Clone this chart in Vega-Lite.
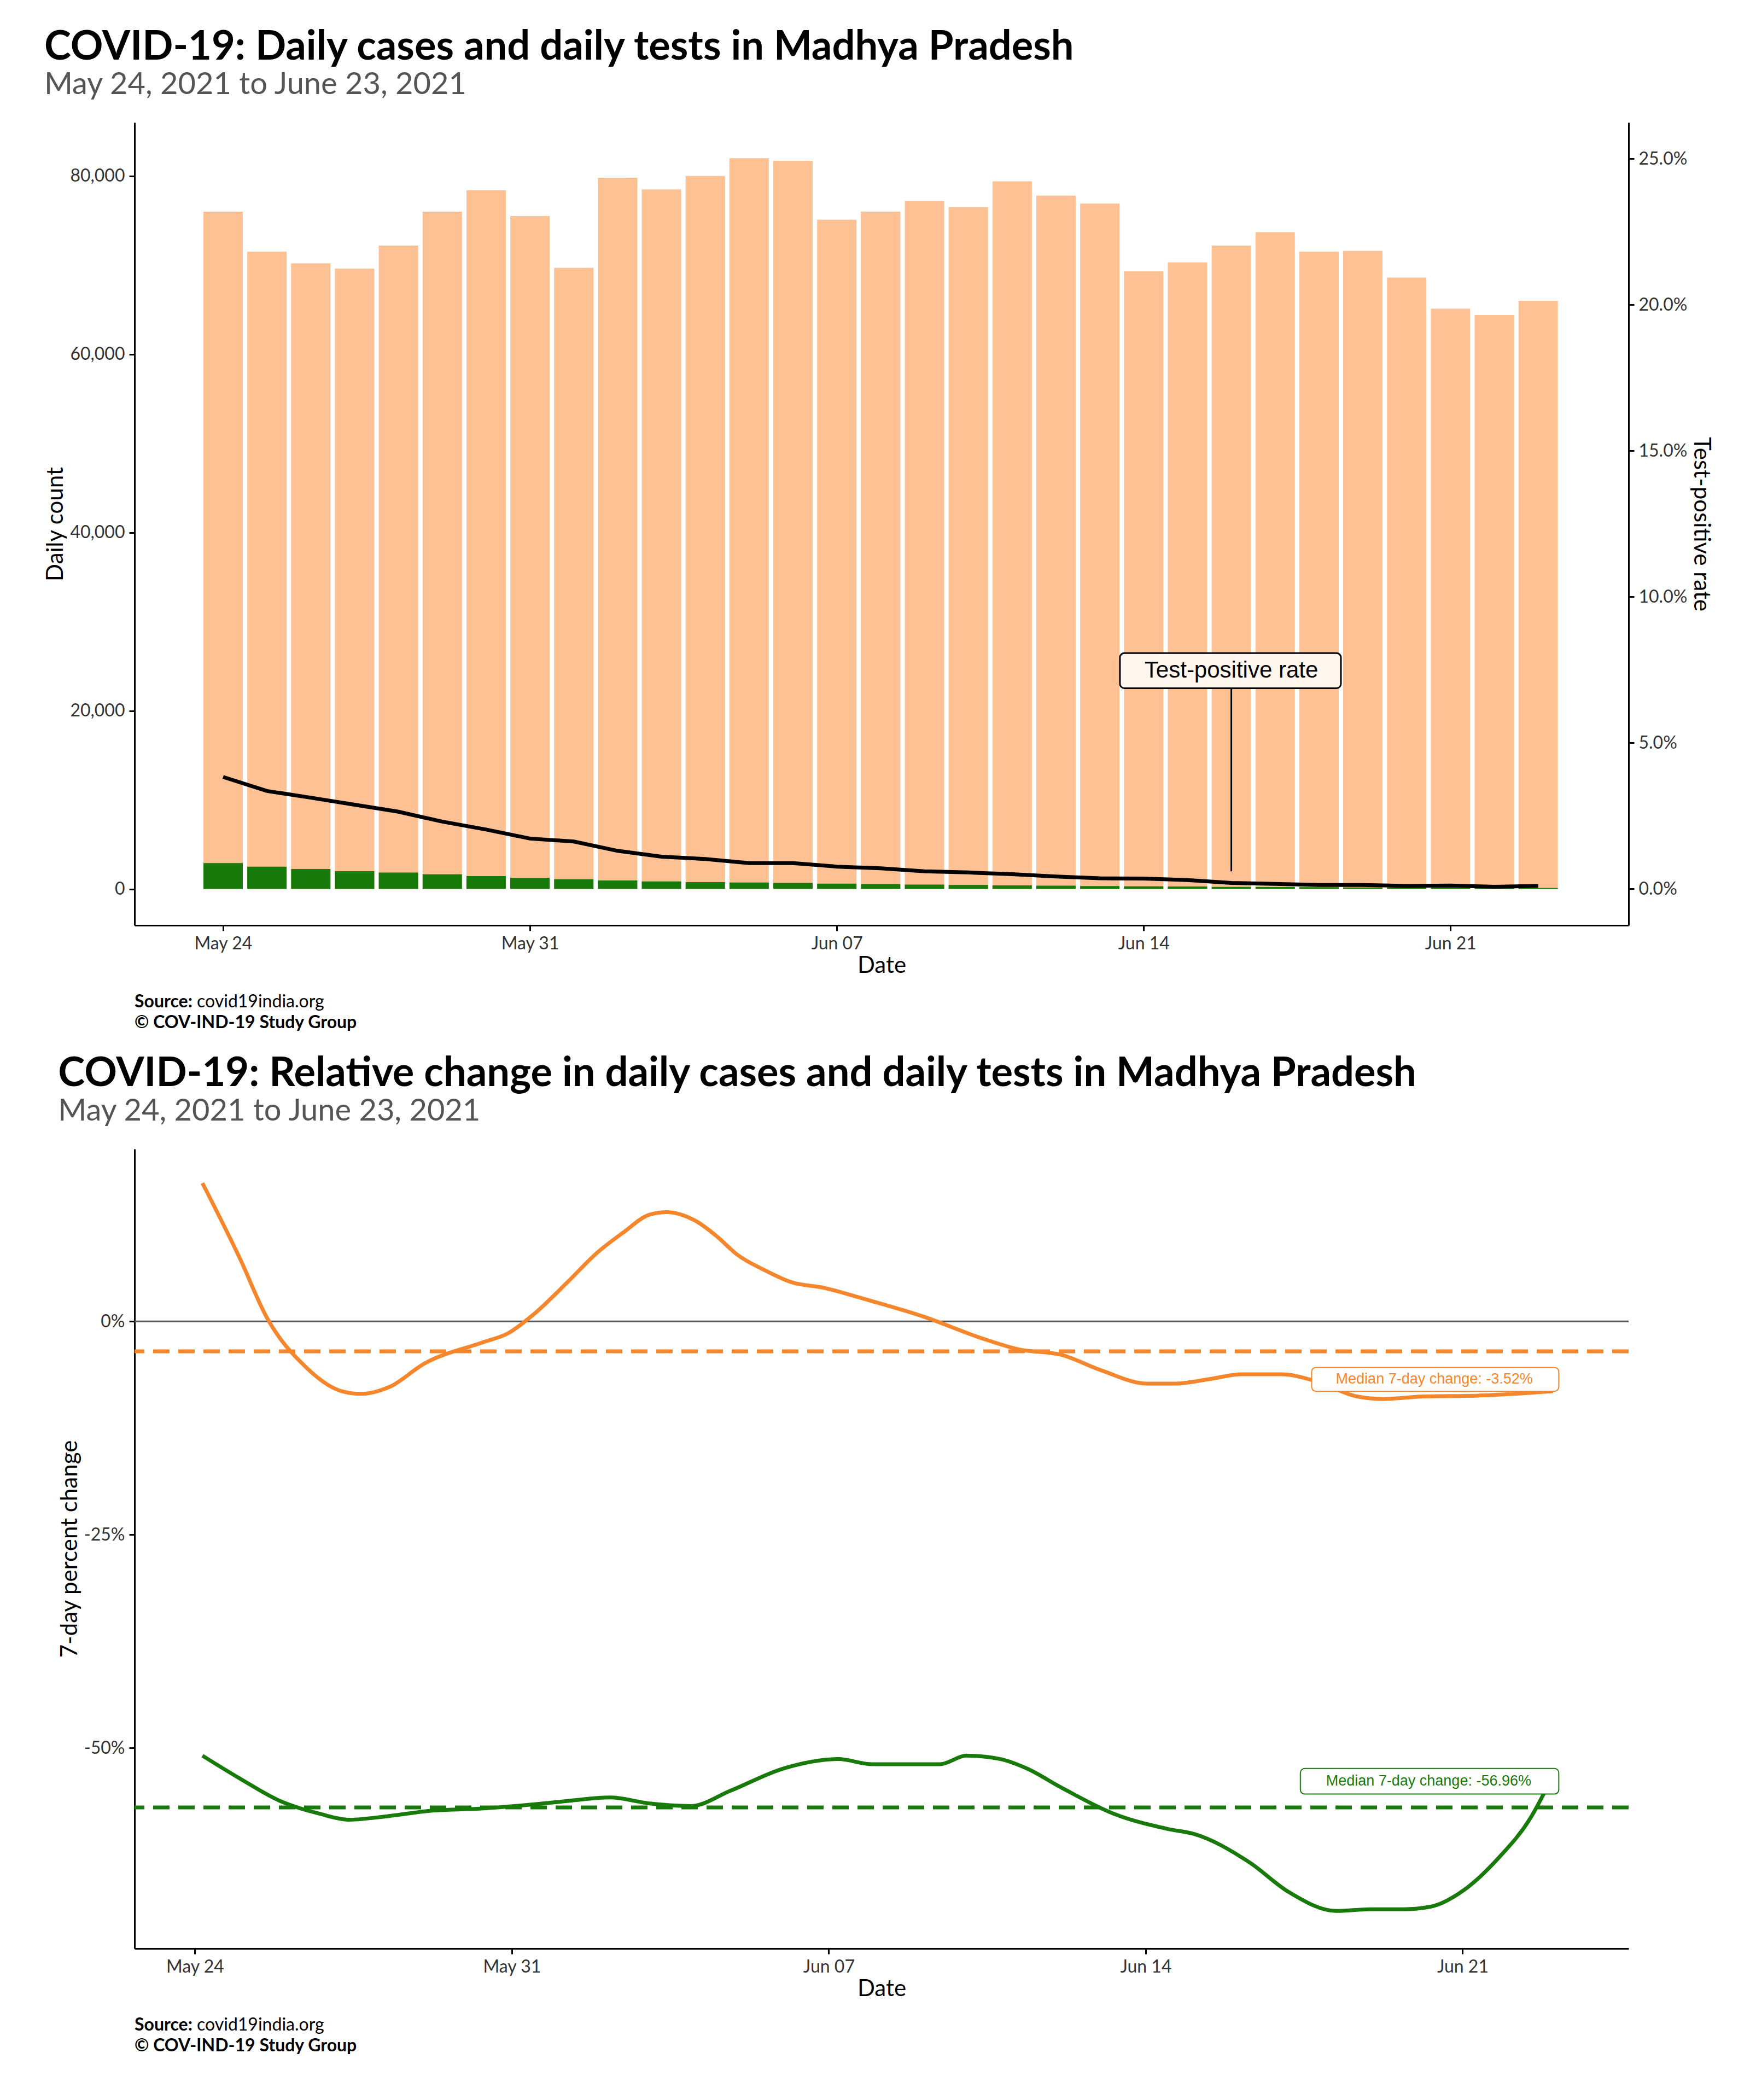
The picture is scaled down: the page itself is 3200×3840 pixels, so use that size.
{
  "$schema": "https://vega.github.io/schema/vega-lite/v6.json",
  "background": "white",
  "padding": {"left": 80, "top": 50, "right": 60, "bottom": 20},
  "config": {
    "font": "Lato",
    "view": {"stroke": null},
    "axis": {"grid": false, "domainColor": "black", "domainWidth": 3, "tickColor": "black", "tickWidth": 3, "tickSize": 10, "labelFont": "Lato", "labelFontSize": 32, "labelColor": "#333333", "titleFont": "Lato", "titleFontSize": 42, "titleFontWeight": "normal", "titleColor": "black", "labelPadding": 8},
    "title": {"font": "Lato", "fontSize": 74, "fontWeight": "bold", "color": "black", "anchor": "start", "subtitleFont": "Lato", "subtitleFontSize": 56, "subtitleColor": "#555555", "offset": 40}
  },
  "spacing": 30,
  "datasets": {
    "daily": [
      {"date": "2021-05-24T00:00:00", "tests": 76000, "cases": 2900, "tpr": 3.83},
      {"date": "2021-05-25T00:00:00", "tests": 71500, "cases": 2500, "tpr": 3.35},
      {"date": "2021-05-26T00:00:00", "tests": 70200, "cases": 2250, "tpr": 3.12},
      {"date": "2021-05-27T00:00:00", "tests": 69600, "cases": 2000, "tpr": 2.88},
      {"date": "2021-05-28T00:00:00", "tests": 72200, "cases": 1850, "tpr": 2.64},
      {"date": "2021-05-29T00:00:00", "tests": 76000, "cases": 1650, "tpr": 2.30},
      {"date": "2021-05-30T00:00:00", "tests": 78400, "cases": 1450, "tpr": 2.03},
      {"date": "2021-05-31T00:00:00", "tests": 75500, "cases": 1250, "tpr": 1.72},
      {"date": "2021-06-01T00:00:00", "tests": 69700, "cases": 1100, "tpr": 1.62},
      {"date": "2021-06-02T00:00:00", "tests": 79800, "cases": 950, "tpr": 1.30},
      {"date": "2021-06-03T00:00:00", "tests": 78500, "cases": 850, "tpr": 1.10},
      {"date": "2021-06-04T00:00:00", "tests": 80000, "cases": 780, "tpr": 1.02},
      {"date": "2021-06-05T00:00:00", "tests": 82000, "cases": 720, "tpr": 0.88},
      {"date": "2021-06-06T00:00:00", "tests": 81700, "cases": 680, "tpr": 0.88},
      {"date": "2021-06-07T00:00:00", "tests": 75100, "cases": 600, "tpr": 0.76},
      {"date": "2021-06-08T00:00:00", "tests": 76000, "cases": 550, "tpr": 0.70},
      {"date": "2021-06-09T00:00:00", "tests": 77200, "cases": 500, "tpr": 0.60},
      {"date": "2021-06-10T00:00:00", "tests": 76500, "cases": 450, "tpr": 0.56},
      {"date": "2021-06-11T00:00:00", "tests": 79400, "cases": 400, "tpr": 0.50},
      {"date": "2021-06-12T00:00:00", "tests": 77800, "cases": 370, "tpr": 0.42},
      {"date": "2021-06-13T00:00:00", "tests": 76900, "cases": 330, "tpr": 0.36},
      {"date": "2021-06-14T00:00:00", "tests": 69300, "cases": 300, "tpr": 0.35},
      {"date": "2021-06-15T00:00:00", "tests": 70300, "cases": 280, "tpr": 0.30},
      {"date": "2021-06-16T00:00:00", "tests": 72200, "cases": 240, "tpr": 0.20},
      {"date": "2021-06-17T00:00:00", "tests": 73700, "cases": 220, "tpr": 0.17},
      {"date": "2021-06-18T00:00:00", "tests": 71500, "cases": 200, "tpr": 0.13},
      {"date": "2021-06-19T00:00:00", "tests": 71600, "cases": 180, "tpr": 0.13},
      {"date": "2021-06-20T00:00:00", "tests": 68600, "cases": 160, "tpr": 0.10},
      {"date": "2021-06-21T00:00:00", "tests": 65100, "cases": 150, "tpr": 0.11},
      {"date": "2021-06-22T00:00:00", "tests": 64400, "cases": 130, "tpr": 0.07},
      {"date": "2021-06-23T00:00:00", "tests": 66000, "cases": 110, "tpr": 0.10}
    ],
    "tests_change": [
      {"date": "2021-05-24T04:00:00", "pct": 16.2},
      {"date": "2021-05-25T00:00:00", "pct": 7.3},
      {"date": "2021-05-25T14:00:00", "pct": 0.5},
      {"date": "2021-05-26T11:00:00", "pct": -5.4},
      {"date": "2021-05-27T06:00:00", "pct": -8.2},
      {"date": "2021-05-27T16:00:00", "pct": -8.5},
      {"date": "2021-05-28T07:00:00", "pct": -7.7},
      {"date": "2021-05-29T02:00:00", "pct": -4.9},
      {"date": "2021-05-30T08:00:00", "pct": -2.5},
      {"date": "2021-05-30T22:00:00", "pct": -1.4},
      {"date": "2021-05-31T12:00:00", "pct": 0.9},
      {"date": "2021-06-01T06:00:00", "pct": 4.7},
      {"date": "2021-06-01T21:00:00", "pct": 8.0},
      {"date": "2021-06-02T11:00:00", "pct": 10.4},
      {"date": "2021-06-03T01:00:00", "pct": 12.5},
      {"date": "2021-06-03T10:00:00", "pct": 12.8},
      {"date": "2021-06-04T02:00:00", "pct": 11.7},
      {"date": "2021-06-04T13:00:00", "pct": 9.9},
      {"date": "2021-06-04T23:00:00", "pct": 7.9},
      {"date": "2021-06-05T14:00:00", "pct": 6.0},
      {"date": "2021-06-06T04:00:00", "pct": 4.6},
      {"date": "2021-06-06T22:00:00", "pct": 3.9},
      {"date": "2021-06-07T16:00:00", "pct": 2.8},
      {"date": "2021-06-09T03:00:00", "pct": 0.5},
      {"date": "2021-06-10T08:00:00", "pct": -1.9},
      {"date": "2021-06-11T05:00:00", "pct": -3.3},
      {"date": "2021-06-12T03:00:00", "pct": -3.9},
      {"date": "2021-06-13T00:00:00", "pct": -5.7},
      {"date": "2021-06-14T01:00:00", "pct": -7.3},
      {"date": "2021-06-14T15:00:00", "pct": -7.3},
      {"date": "2021-06-15T09:00:00", "pct": -6.8},
      {"date": "2021-06-16T03:00:00", "pct": -6.2},
      {"date": "2021-06-17T00:00:00", "pct": -6.2},
      {"date": "2021-06-17T18:00:00", "pct": -7.0},
      {"date": "2021-06-18T16:00:00", "pct": -8.8},
      {"date": "2021-06-19T06:00:00", "pct": -9.1},
      {"date": "2021-06-20T03:00:00", "pct": -8.8},
      {"date": "2021-06-21T08:00:00", "pct": -8.7},
      {"date": "2021-06-23T00:00:00", "pct": -8.2}
    ],
    "cases_change": [
      {"date": "2021-05-24T04:00:00", "pct": -50.9},
      {"date": "2021-05-25T00:00:00", "pct": -53.6},
      {"date": "2021-05-25T21:00:00", "pct": -56.2},
      {"date": "2021-05-26T18:00:00", "pct": -57.7},
      {"date": "2021-05-27T10:00:00", "pct": -58.4},
      {"date": "2021-05-28T06:00:00", "pct": -58.0},
      {"date": "2021-05-29T03:00:00", "pct": -57.4},
      {"date": "2021-05-30T08:00:00", "pct": -57.1},
      {"date": "2021-05-31T12:00:00", "pct": -56.6},
      {"date": "2021-06-01T06:00:00", "pct": -56.2},
      {"date": "2021-06-02T04:00:00", "pct": -55.8},
      {"date": "2021-06-03T01:00:00", "pct": -56.5},
      {"date": "2021-06-03T23:00:00", "pct": -56.8},
      {"date": "2021-06-04T20:00:00", "pct": -55.0},
      {"date": "2021-06-06T00:00:00", "pct": -52.4},
      {"date": "2021-06-07T05:00:00", "pct": -51.3},
      {"date": "2021-06-07T23:00:00", "pct": -51.9},
      {"date": "2021-06-09T11:00:00", "pct": -51.9},
      {"date": "2021-06-10T01:00:00", "pct": -50.9},
      {"date": "2021-06-10T19:00:00", "pct": -51.3},
      {"date": "2021-06-11T09:00:00", "pct": -52.4},
      {"date": "2021-06-12T03:00:00", "pct": -54.6},
      {"date": "2021-06-13T07:00:00", "pct": -57.7},
      {"date": "2021-06-14T12:00:00", "pct": -59.5},
      {"date": "2021-06-15T02:00:00", "pct": -60.1},
      {"date": "2021-06-16T07:00:00", "pct": -63.4},
      {"date": "2021-06-17T04:00:00", "pct": -66.9},
      {"date": "2021-06-18T05:00:00", "pct": -69.1},
      {"date": "2021-06-18T23:00:00", "pct": -68.9},
      {"date": "2021-06-19T17:00:00", "pct": -68.9},
      {"date": "2021-06-20T07:00:00", "pct": -68.6},
      {"date": "2021-06-21T01:00:00", "pct": -66.6},
      {"date": "2021-06-21T19:00:00", "pct": -62.9},
      {"date": "2021-06-22T12:00:00", "pct": -58.2},
      {"date": "2021-06-23T01:00:00", "pct": -52.7}
    ],
    "medians": [
      {"m": 0, "s": "zero"},
      {"m": -3.52, "s": "tests"},
      {"m": -56.96, "s": "cases"}
    ],
    "footer": [{"a": "Source:", "b": "covid19india.org", "c": "© COV-IND-19 Study Group"}]
  },
  "vconcat": [
    {
      "width": 2732,
      "height": 1468,
      "title": {"text": "COVID-19: Daily cases and daily tests in Madhya Pradesh", "subtitle": "May 24, 2021 to June 23, 2021"},
      "layer": [
        {
          "data": {"name": "daily"},
          "encoding": {
            "x": {"field": "date", "type": "temporal", "title": "Date",
              "scale": {"domain": [{"year": 2021, "month": 5, "date": 22, "hours": 1}, {"year": 2021, "month": 6, "date": 25}]},
              "axis": {"format": "%b %d", "values": [{"year": 2021, "month": 5, "date": 24}, {"year": 2021, "month": 5, "date": 31}, {"year": 2021, "month": 6, "date": 7}, {"year": 2021, "month": 6, "date": 14}, {"year": 2021, "month": 6, "date": 21}]}}
          },
          "layer": [
            {"mark": {"type": "bar", "width": 72, "color": "#FDC193"},
              "encoding": {"y": {"field": "tests", "type": "quantitative", "title": "Daily count",
                "scale": {"domain": [-4075, 86000], "nice": false, "zero": false},
                "axis": {"orient": "left", "title": "Daily count", "values": [0, 20000, 40000, 60000, 80000], "format": ",d"}}}},
            {"mark": {"type": "bar", "width": 72, "color": "#177A0A"},
              "encoding": {"y": {"field": "cases", "type": "quantitative", "title": "Daily count"}}}
          ]
        },
        {
          "layer": [
            {"data": {"name": "daily"},
              "mark": {"type": "line", "color": "black", "strokeWidth": 7},
              "encoding": {"x": {"field": "date", "type": "temporal"},
                "y": {"field": "tpr", "type": "quantitative", "title": "Test-positive rate",
                  "scale": {"domain": [-1.25, 26.24], "nice": false, "zero": false},
                  "axis": {"orient": "right", "title": "Test-positive rate", "values": [0, 5, 10, 15, 20, 25], "labelExpr": "format(datum.value, '.1f') + '%'"}}}},
            {"data": {"values": [{"d": "2021-06-16T00:00:00", "y1": 0.6, "y2": 7.0}]},
              "mark": {"type": "rule", "color": "black", "strokeWidth": 3},
              "encoding": {"x": {"field": "d", "type": "temporal"}, "y": {"field": "y1", "type": "quantitative", "title": "Test-positive rate"}, "y2": {"field": "y2"}}},
            {"data": {"values": [{"d1": "2021-06-13T11:00:00", "d2": "2021-06-18T12:00:00", "y1": 6.87, "y2": 8.07}]},
              "mark": {"type": "rect", "fill": "#FFF6EE", "stroke": "black", "strokeWidth": 3, "cornerRadius": 8},
              "encoding": {"x": {"field": "d1", "type": "temporal"}, "x2": {"field": "d2"}, "y": {"field": "y1", "type": "quantitative", "title": "Test-positive rate"}, "y2": {"field": "y2"}}},
            {"data": {"values": [{"d": "2021-06-16T00:00:00", "y": 7.47, "t": "Test-positive rate"}]},
              "mark": {"type": "text", "font": "Liberation Sans", "fontSize": 42, "color": "black", "baseline": "middle"},
              "encoding": {"x": {"field": "d", "type": "temporal"}, "y": {"field": "y", "type": "quantitative", "title": "Test-positive rate"}, "text": {"field": "t"}}}
          ]
        }
      ],
      "resolve": {"scale": {"y": "independent"}}
    },
    {
      "width": 2732, "height": 80,
      "data": {"name": "footer"},
      "layer": [
        {"mark": {"type": "text", "align": "left", "baseline": "top", "fontSize": 32, "fontWeight": "bold", "x": 0, "y": 0}, "encoding": {"text": {"field": "a"}}},
        {"mark": {"type": "text", "align": "left", "baseline": "top", "fontSize": 32, "x": 114, "y": 0}, "encoding": {"text": {"field": "b"}}},
        {"mark": {"type": "text", "align": "left", "baseline": "top", "fontSize": 32, "fontWeight": "bold", "x": 0, "y": 38}, "encoding": {"text": {"field": "c"}}}
      ]
    },
    {
      "width": 2732,
      "height": 1462,
      "title": {"text": "COVID-19: Relative change in daily cases and daily tests in Madhya Pradesh", "subtitle": "May 24, 2021 to June 23, 2021"},
      "encoding": {
        "x": {"field": "date", "type": "temporal", "title": "Date",
          "scale": {"domain": [{"year": 2021, "month": 5, "date": 22, "hours": 16}, {"year": 2021, "month": 6, "date": 24, "hours": 16}]},
          "axis": {"format": "%b %d", "values": [{"year": 2021, "month": 5, "date": 24}, {"year": 2021, "month": 5, "date": 31}, {"year": 2021, "month": 6, "date": 7}, {"year": 2021, "month": 6, "date": 14}, {"year": 2021, "month": 6, "date": 21}]}}
      },
      "layer": [
        {"data": {"name": "medians"},
          "mark": {"type": "rule"},
          "encoding": {"x": null,
            "y": {"field": "m", "type": "quantitative", "title": "7-day percent change",
              "scale": {"domain": [-73.5, 20.2], "nice": false, "zero": false},
              "axis": {"title": "7-day percent change", "values": [-50, -25, 0], "labelExpr": "datum.value + '%'"}},
            "color": {"field": "s", "type": "nominal", "scale": {"domain": ["tests", "cases", "zero"], "range": ["#F6862B", "#177A0A", "#555555"]}, "legend": null},
            "strokeWidth": {"condition": {"test": "datum.s === 'zero'", "value": 3}, "value": 7},
            "strokeDash": {"condition": {"test": "datum.s === 'zero'", "value": [1, 0]}, "value": [30, 16]}}},
        {"data": {"name": "tests_change"}, "mark": {"type": "line", "color": "#F6862B", "strokeWidth": 7, "interpolate": "monotone"},
          "encoding": {"y": {"field": "pct", "type": "quantitative", "title": "7-day percent change"}}},
        {"data": {"name": "cases_change"}, "mark": {"type": "line", "color": "#177A0A", "strokeWidth": 7, "interpolate": "monotone"},
          "encoding": {"y": {"field": "pct", "type": "quantitative", "title": "7-day percent change"}}},
        {"data": {"values": [
            {"d1": "2021-06-17T16:00:00", "d2": "2021-06-23T03:00:00", "y1": -5.4, "y2": -8.2, "dm": "2021-06-20T09:00:00", "ym": -6.8, "t": "Median 7-day change: -3.52%", "s": "tests"},
            {"d1": "2021-06-17T10:00:00", "d2": "2021-06-23T03:00:00", "y1": -52.4, "y2": -55.4, "dm": "2021-06-20T06:00:00", "ym": -53.9, "t": "Median 7-day change: -56.96%", "s": "cases"}]},
          "layer": [
            {"mark": {"type": "rect", "fill": "white", "strokeWidth": 2, "cornerRadius": 8},
              "encoding": {"x": {"field": "d1", "type": "temporal"}, "x2": {"field": "d2"}, "y": {"field": "y1", "type": "quantitative", "title": "7-day percent change"}, "y2": {"field": "y2"},
                "stroke": {"field": "s", "type": "nominal", "scale": {"domain": ["tests", "cases"], "range": ["#F6862B", "#177A0A"]}, "legend": null}}},
            {"mark": {"type": "text", "font": "Liberation Sans", "fontSize": 27, "baseline": "middle"},
              "encoding": {"x": {"field": "dm", "type": "temporal"}, "y": {"field": "ym", "type": "quantitative", "title": "7-day percent change"}, "text": {"field": "t"},
                "color": {"field": "s", "type": "nominal", "scale": {"domain": ["tests", "cases", "zero"], "range": ["#F6862B", "#177A0A", "#555555"]}, "legend": null}}}
          ]
        }
      ]
    },
    {
      "width": 2732, "height": 80,
      "data": {"name": "footer"},
      "layer": [
        {"mark": {"type": "text", "align": "left", "baseline": "top", "fontSize": 32, "fontWeight": "bold", "x": 0, "y": 0}, "encoding": {"text": {"field": "a"}}},
        {"mark": {"type": "text", "align": "left", "baseline": "top", "fontSize": 32, "x": 114, "y": 0}, "encoding": {"text": {"field": "b"}}},
        {"mark": {"type": "text", "align": "left", "baseline": "top", "fontSize": 32, "fontWeight": "bold", "x": 0, "y": 38}, "encoding": {"text": {"field": "c"}}}
      ]
    }
  ]
}
